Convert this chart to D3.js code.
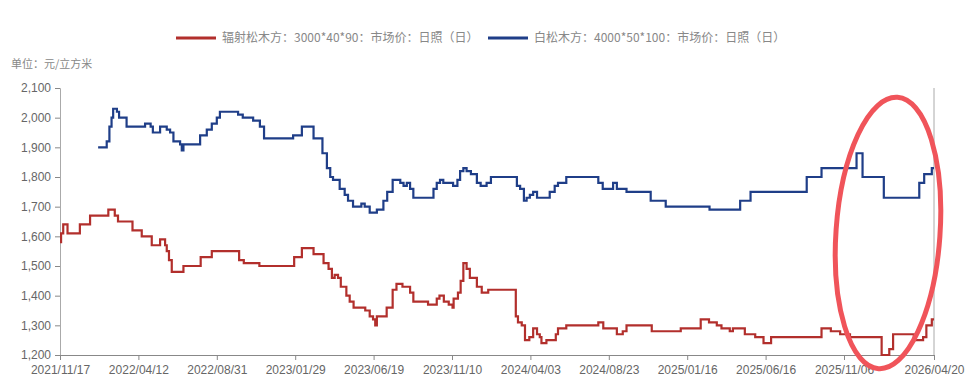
<!DOCTYPE html>
<html>
<head>
<meta charset="utf-8">
<script src="https://cdn.jsdelivr.net/npm/d3@7"></script>
<style>
  body { margin: 0; background: #fff; }
  svg { display: block; font-family: "Noto Sans CJK SC", "Noto Sans", sans-serif; }
</style>
</head>
<body>
<div id="chart"></div>
<script>
// x tick labels (category axis, last one is the end of the data)
var tickLabels = ["2021/11/17","2022/04/12","2022/08/31","2023/01/29","2023/06/19","2023/11/10",
  "2024/04/03","2024/08/23","2025/01/16","2025/06/16","2025/11/06","2026/04/20"];
var yTicks = [1200,1300,1400,1500,1600,1700,1800,1900,2000,2100];

var seriesNames = ["辐射松木方：3000*40*90：市场价：日照（日）", "白松木方：4000*50*100：市场价：日照（日）"];

// radiata pine: change points (date, price)
var redDates = ["2021-11-17","2021-11-19","2021-11-23","2021-12-01","2021-12-24","2022-01-12","2022-02-15","2022-02-27",
  "2022-03-05","2022-04-01","2022-04-18","2022-05-06","2022-05-21","2022-05-30","2022-06-02","2022-06-06","2022-06-11",
  "2022-07-02","2022-08-02","2022-08-22","2022-10-13","2022-10-22","2022-11-21","2023-01-27","2023-02-10","2023-03-03",
  "2023-03-21","2023-03-30","2023-04-05","2023-04-10","2023-04-16","2023-04-21","2023-05-01","2023-05-07","2023-05-14",
  "2023-06-04","2023-06-12","2023-06-18","2023-06-22","2023-06-25","2023-07-13","2023-07-24","2023-07-31","2023-08-11",
  "2023-08-25","2023-08-31","2023-09-27","2023-10-13","2023-10-18","2023-10-26","2023-11-04","2023-11-11","2023-11-13",
  "2023-11-21","2023-11-26","2023-12-01","2023-12-07","2023-12-13","2023-12-26","2024-01-04","2024-01-16","2024-03-07",
  "2024-03-11","2024-03-18","2024-03-24","2024-04-01","2024-04-08","2024-04-15","2024-04-20","2024-04-23","2024-05-02",
  "2024-05-19","2024-05-23","2024-06-07","2024-08-04","2024-08-13","2024-09-07","2024-09-18","2024-09-25","2024-11-11",
  "2025-01-04","2025-02-11","2025-02-27","2025-03-14","2025-03-23","2025-04-08","2025-04-14","2025-05-07","2025-05-27",
  "2025-06-12","2025-06-26","2025-09-26","2025-10-13","2025-10-30","2025-11-17","2026-01-14","2026-01-28","2026-02-04",
  "2026-03-14","2026-03-31","2026-04-06","2026-04-16"];
var redValues = [1580,1610,1640,1610,1640,1670,1690,1670,
  1650,1620,1600,1570,1590,1570,1550,1520,1480,
  1500,1530,1550,1520,1510,1500,1530,1560,1540,
  1510,1490,1460,1470,1460,1430,1400,1380,1360,
  1350,1330,1320,1300,1330,1360,1420,1440,1430,
  1410,1380,1370,1390,1400,1380,1370,1360,1390,
  1410,1450,1510,1490,1460,1430,1410,1420,1330,
  1310,1300,1250,1260,1290,1270,1260,1240,1250,
  1270,1290,1300,1310,1290,1270,1280,1300,1280,
  1290,1320,1310,1300,1290,1280,1290,1270,1260,
  1240,1260,1290,1280,1270,1260,1200,1220,1270,
  1250,1260,1300,1320];

// white pine: change points (date, price)
var blueDates = ["2022-01-27","2022-02-12","2022-02-17","2022-02-21","2022-02-24","2022-03-03","2022-03-07","2022-03-21",
  "2022-04-24","2022-05-04","2022-05-08","2022-05-21","2022-06-02","2022-06-08","2022-06-14","2022-06-26","2022-06-29",
  "2022-07-02","2022-08-01","2022-08-13","2022-08-22","2022-08-31","2022-09-06","2022-10-11","2022-10-20","2022-11-09",
  "2022-11-22","2022-11-30","2023-01-25","2023-02-10","2023-03-03","2023-03-19","2023-03-27","2023-04-02","2023-04-07",
  "2023-04-19","2023-04-28","2023-05-04","2023-05-13","2023-05-28","2023-06-03","2023-06-12","2023-06-25","2023-07-07",
  "2023-07-14","2023-07-24","2023-08-07","2023-08-13","2023-08-19","2023-08-25","2023-08-31","2023-10-07","2023-10-13",
  "2023-10-19","2023-10-25","2023-11-12","2023-11-20","2023-11-25","2023-12-01","2023-12-07","2023-12-15","2023-12-26",
  "2024-01-02","2024-01-13","2024-01-21","2024-03-09","2024-03-15","2024-03-22","2024-03-27","2024-04-02","2024-04-08",
  "2024-04-15","2024-05-08","2024-05-17","2024-05-23","2024-06-07","2024-08-04","2024-08-12","2024-08-31","2024-09-07",
  "2024-09-25","2024-11-09","2024-12-07","2025-02-28","2025-04-28","2025-05-18","2025-08-30","2025-09-26","2025-11-29",
  "2025-12-10","2026-01-18","2026-03-24","2026-04-02","2026-04-16"];
var blueValues = [1900,1920,1970,2000,2030,2020,2000,1970,
  1980,1970,1950,1970,1960,1950,1920,1910,1890,
  1910,1940,1960,1980,2000,2020,2010,2000,1990,
  1970,1930,1940,1970,1930,1880,1830,1800,1790,
  1760,1740,1720,1700,1710,1700,1680,1690,1720,
  1750,1790,1780,1770,1780,1760,1730,1760,1780,
  1790,1780,1770,1790,1820,1830,1820,1810,1780,
  1770,1780,1800,1770,1760,1720,1730,1740,1750,
  1730,1750,1770,1780,1800,1780,1760,1780,1760,
  1750,1720,1700,1690,1720,1750,1800,1830,1880,
  1800,1730,1780,1810,1830];

var width = 970, height = 388;
var margin = {left: 60, right: 36, top: 88, bottom: 33};
var parse = d3.timeParse("%Y/%m/%d");
var parseDash = d3.timeParse("%Y-%m-%d");
var tickDates = tickLabels.map(parse);

// category-like axis: equal spacing between labels, last gap a bit longer
var x0 = margin.left, x1 = width - margin.right;
var step = (x1 - x0) / (10 + 90 / 78.4);
var xRange = tickDates.map(function(d, i) { return i < 11 ? x0 + step * i : x1; });
var x = d3.scaleTime().domain(tickDates).range(xRange);
var y = d3.scaleLinear().domain([1200, 2100]).range([height - margin.bottom, margin.top]);

var svg = d3.select("#chart").append("svg")
    .attr("width", width)
    .attr("height", height);

// unit label
svg.append("text")
    .attr("x", 11).attr("y", 68)
    .attr("fill", "#888")
    .style("font-size", "11px")
    .text("单位：元/立方米");

// y axis
var yAxis = svg.append("g")
    .attr("transform", "translate(" + x0 + ",0)")
    .call(d3.axisLeft(y).tickValues(yTicks).tickSize(5).tickPadding(4).tickFormat(d3.format(",")));
yAxis.select(".domain").attr("stroke", "#aaa");
yAxis.selectAll(".tick line").attr("stroke", "#888");
yAxis.selectAll("text").attr("fill", "#666").style("font-size", "12px").style("font-family", "inherit");

// x axis
var xAxis = svg.append("g")
    .attr("transform", "translate(0," + y(1200) + ")")
    .call(d3.axisBottom(x).tickValues(tickDates).tickSize(5).tickPadding(5)
      .tickFormat(function(d, i) { return tickLabels[i]; }));
xAxis.select(".domain").attr("stroke", "#888");
xAxis.selectAll(".tick line").attr("stroke", "#888");
xAxis.selectAll("text").attr("fill", "#666").style("font-size", "12px").style("font-family", "inherit");

// right edge marker
svg.append("line")
    .attr("x1", x1).attr("x2", x1)
    .attr("y1", y(2100)).attr("y2", y(1200))
    .attr("stroke", "#aaa").attr("stroke-width", 1);

var line = d3.line()
    .curve(d3.curveStepAfter)
    .x(function(d) { return x(d.date); })
    .y(function(d) { return y(d.value); });

function toPoints(dates, values) {
  var pts = dates.map(function(d, i) { return {date: parseDash(d), value: values[i]}; });
  pts.push({date: tickDates[tickDates.length - 1], value: values[values.length - 1]});
  return pts;
}

svg.append("path")
    .datum(toPoints(blueDates, blueValues))
    .attr("fill", "none")
    .attr("stroke", "#1f3e88")
    .attr("stroke-width", 2.2)
    .attr("d", line);

svg.append("path")
    .datum(toPoints(redDates, redValues))
    .attr("fill", "none")
    .attr("stroke", "#b22f2c")
    .attr("stroke-width", 2.2)
    .attr("d", line);

// legend
var legend = [
  {name: seriesNames[0], color: "#b22f2c", x: 176},
  {name: seriesNames[1], color: "#1f3e88", x: 488}
];
var lg = svg.selectAll(".legend").data(legend).enter().append("g")
    .attr("class", "legend")
    .attr("transform", function(d) { return "translate(" + d.x + ",38)"; });
lg.append("line")
    .attr("x1", 0).attr("x2", 40)
    .attr("stroke", function(d) { return d.color; })
    .attr("stroke-width", 3);
lg.append("text")
    .attr("x", 46).attr("dy", "0.35em")
    .attr("fill", "#888")
    .style("font-size", "12px")
    .text(function(d) { return d.name; });

// hand-drawn highlight ellipse
svg.append("ellipse")
    .attr("cx", 888).attr("cy", 233)
    .attr("rx", 52).attr("ry", 136)
    .attr("transform", "rotate(4,888,233)")
    .attr("fill", "none")
    .attr("stroke", "#f0545a")
    .attr("stroke-width", 5);
</script>
</body>
</html>
